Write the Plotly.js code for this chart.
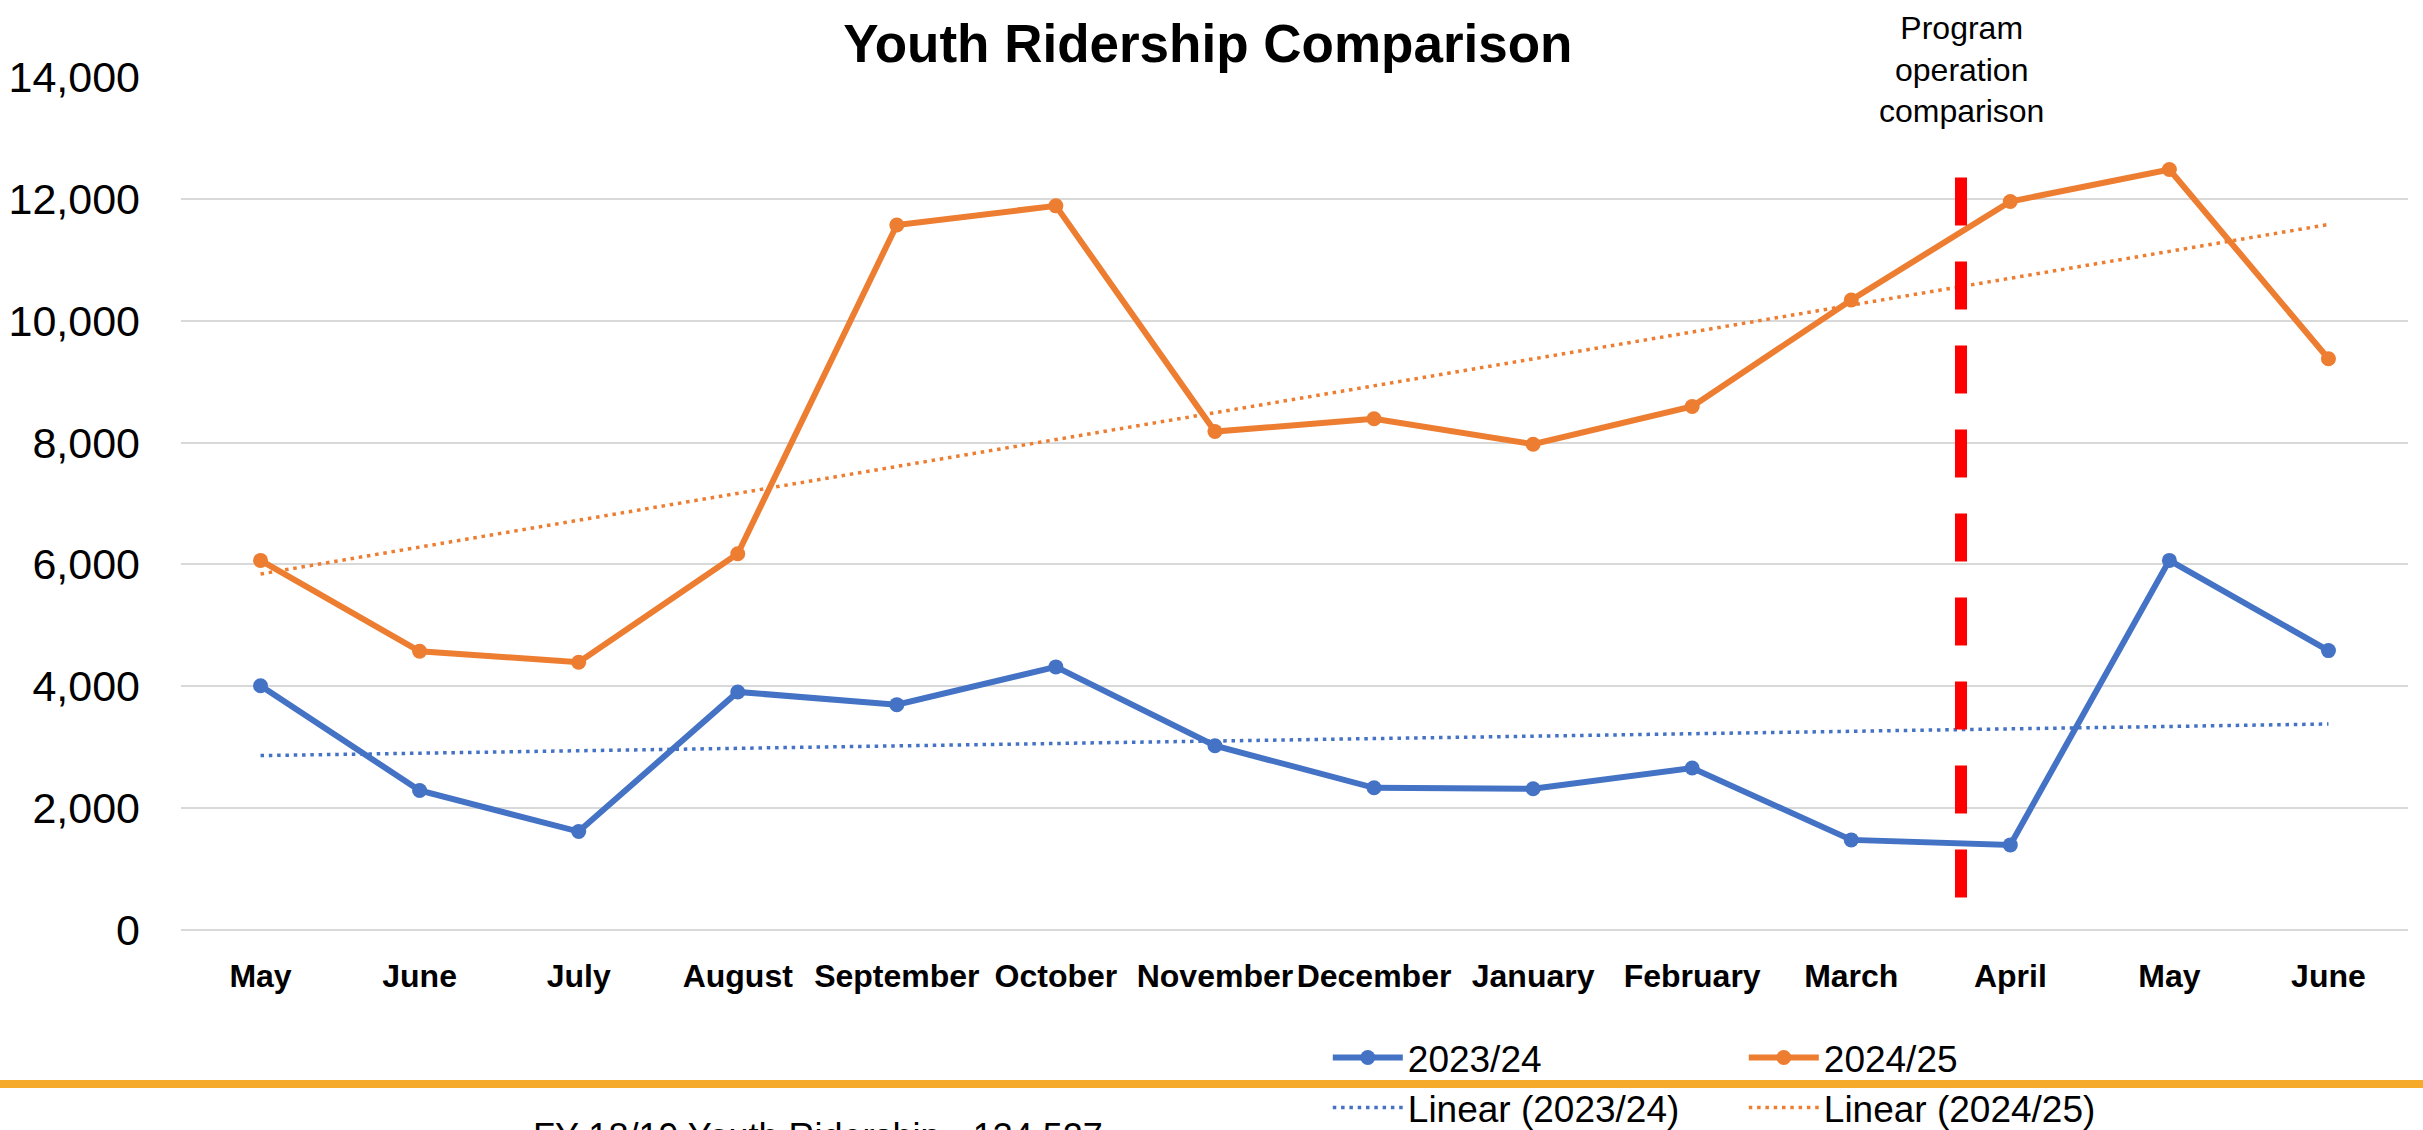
<!DOCTYPE html>
<html>
<head>
<meta charset="utf-8">
<script src="https://cdn.plot.ly/plotly-3.0.1.min.js"></script>
<style>
html,body{margin:0;padding:0;background:#ffffff;}
#chart{width:2423px;height:1130px;}
</style>
</head>
<body>
<div id="chart"></div>
<script>
// ---- data ----
const months = ["May","June","July","August","September","October","November","December","January","February","March","April","May","June"];
const ridership2023_24 = [4010,2290,1616,3907,3699,4318,3025,2334,2318,2658,1479,1397,6066,4586];
const ridership2024_25 = [6066,4575,4395,6175,11572,11885,8181,8390,7973,8593,10340,11956,12482,9375];
const seriesNames = ["2023/24","2024/25"];
const trendNames = ["Linear (2023/24)","Linear (2024/25)"];
const yTickValues = [0,2000,4000,6000,8000,10000,12000,14000];
const yTickLabels = ["0","2,000","4,000","6,000","8,000","10,000","12,000","14,000"];
const programLineX = 10.69;          // between March and April
const programLineTop = 12350;        // top of the red dashed marker
const programLabel = "Program<br>operation<br>comparison";
const chartTitle = "Youth Ridership Comparison";
const footnote = "FY 18/19 Youth Ridership - 134,527";

// ---- helpers ----
const xIdx = months.map((_, i) => i);
function linearFit(ys) {
  const n = ys.length;
  const xs = ys.map((_, i) => i);
  const mx = xs.reduce((a, b) => a + b, 0) / n;
  const my = ys.reduce((a, b) => a + b, 0) / n;
  let sxy = 0, sxx = 0;
  for (let i = 0; i < n; i++) { sxy += (xs[i] - mx) * (ys[i] - my); sxx += (xs[i] - mx) ** 2; }
  const b = sxy / sxx, a = my - b * mx;
  return xs.map(x => a + b * x);
}

const BLUE = "#4472C4", ORANGE = "#ED7D31";
const FONT = "Liberation Sans, Arial, Helvetica, sans-serif";

const traces = [
  {x: xIdx, y: ridership2023_24, name: seriesNames[0], type: "scatter", mode: "lines+markers",
   line: {color: BLUE, width: 6}, marker: {color: BLUE, size: 15}, legend: "legend"},
  {x: xIdx, y: ridership2024_25, name: seriesNames[1], type: "scatter", mode: "lines+markers",
   line: {color: ORANGE, width: 6}, marker: {color: ORANGE, size: 15}, legend: "legend"},
  {x: xIdx, y: linearFit(ridership2023_24), name: trendNames[0], type: "scatter", mode: "lines",
   line: {color: BLUE, width: 3.5, dash: "3.5px,4.8px"}, legend: "legend2"},
  {x: xIdx, y: linearFit(ridership2024_25), name: trendNames[1], type: "scatter", mode: "lines",
   line: {color: ORANGE, width: 3.5, dash: "3.5px,4.8px"}, legend: "legend2"}
];

const plotTop = 77, plotBottom = 930, plotH = plotBottom - plotTop;
const pyOf = px => (plotBottom - px) / plotH;   // page pixel -> paper y

const layout = {
  width: 2423, height: 1130,
  paper_bgcolor: "#ffffff", plot_bgcolor: "#ffffff",
  margin: {l: 181, r: 15, t: plotTop, b: 1130 - plotBottom, autoexpand: false},
  font: {family: FONT, color: "#000000"},
  title: {text: "<b>" + chartTitle + "</b>", x: 0.4985, xanchor: "center", y: 1 - 43 / 1130, yanchor: "middle",
          font: {family: FONT, size: 53, color: "#000000"}},
  xaxis: {range: [-0.5, 13.5], tickvals: xIdx, ticktext: months.map(m => "<b>" + m + "</b>"), tickangle: 0,
          showgrid: false, zeroline: false, showline: false, ticks: "",
          tickfont: {family: FONT, size: 32, color: "#000000"}, ticklabelstandoff: 24, fixedrange: true},
  yaxis: {range: [0, 14000], tickvals: yTickValues, ticktext: yTickLabels,
          showgrid: true, gridcolor: "#D9D9D9", gridwidth: 2, zeroline: true, zerolinecolor: "#D9D9D9", zerolinewidth: 2,
          showline: false, ticks: "", tickfont: {family: FONT, size: 43, color: "#000000"}, ticklabelstandoff: 40, fixedrange: true},
  showlegend: true,
  legend: {orientation: "h", xref: "container", yref: "container", x: 0.548, xanchor: "left", y: 1 - 1058 / 1130, yanchor: "middle",
           entrywidth: 331, entrywidthmode: "pixels", itemwidth: 70, bgcolor: "rgba(0,0,0,0)",
           font: {family: FONT, size: 37, color: "#000000"}},
  legend2: {orientation: "h", xref: "container", yref: "container", x: 0.548, xanchor: "left", y: 1 - 1108 / 1130, yanchor: "middle",
           entrywidth: 331, entrywidthmode: "pixels", itemwidth: 70, bgcolor: "rgba(0,0,0,0)",
           font: {family: FONT, size: 37, color: "#000000"}},
  shapes: [
    {type: "line", xref: "x", yref: "y", x0: programLineX, x1: programLineX, y0: programLineTop, y1: -80,
     line: {color: "#FF0000", width: 12, dash: "48px,36px"}, layer: "above"},
    {type: "line", xref: "paper", yref: "paper", x0: -181 / 2227, x1: 1 + 15 / 2227, y0: pyOf(1084), y1: pyOf(1084),
     line: {color: "#F5AA2C", width: 8}, layer: "below"}
  ],
  annotations: [
    {text: programLabel, xref: "x", yref: "paper", x: programLineX, y: pyOf(70), xanchor: "center", yanchor: "middle",
     showarrow: false, font: {family: FONT, size: 32, color: "#000000"}},
    {text: footnote, xref: "paper", yref: "paper", x: (818 - 181) / 2227, y: pyOf(1136), xanchor: "center", yanchor: "middle",
     showarrow: false, font: {family: FONT, size: 36, color: "#000000"}}
  ]
};

Plotly.newPlot("chart", traces, layout, {staticPlot: true, displayModeBar: false});
</script>
</body>
</html>
